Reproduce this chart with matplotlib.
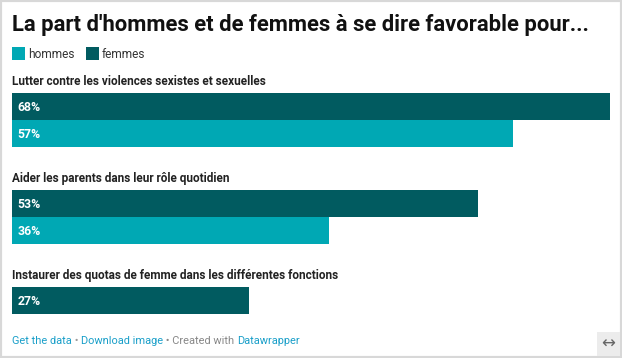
import matplotlib.pyplot as plt
from matplotlib.patches import Rectangle

# data
questions = [
    "Lutter contre les violences sexistes et sexuelles",
    "Aider les parents dans leur rôle quotidien",
    "Instaurer des quotas de femme dans les différentes fonctions",
]
femmes = [68, 53, 27]
hommes = [57, 36, None]

C_FEMMES = "#015b60"
C_HOMMES = "#00a8b4"
FONTS = ["Roboto", "DejaVu Sans"]

W, H = 622, 358
fig = plt.figure(figsize=(W / 100, H / 100), dpi=100)
fig.patch.set_facecolor("white")

# outer border
fig.add_artist(Rectangle((0, 0), 1, 1, transform=fig.transFigure, fill=False,
                         edgecolor="#d8d8d8", linewidth=3))


def fx(px):
    return px / W


def fy(py):
    return 1 - py / H


fig.text(fx(12), fy(31), "La part d'hommes et de femmes à se dire favorable pour...",
         family=FONTS, weight="bold", fontsize=15.8, color="#111111", va="baseline")

# legend
for x0, lab, col in [(12, "hommes", C_HOMMES), (86, "femmes", C_FEMMES)]:
    fig.add_artist(Rectangle((fx(x0), fy(60)), 13 / W, 13 / H, transform=fig.transFigure,
                             facecolor=col, edgecolor="none"))
    fig.text(fx(x0 + 16), fy(58.5), lab, family=FONTS, fontsize=8.6, color="#333333",
             va="baseline")

# bar axes: x from 12px to 610px, y from 93px to 314px
top, bottom = 93, 314
ax = fig.add_axes([fx(12), fy(bottom), fx(610) - fx(12), (bottom - top) / H])
ax.set_xlim(0, max(femmes))
ax.set_ylim(bottom - top, 0)
ax.axis("off")

pitch, bh = 97, 27
for i, q in enumerate(questions):
    y0 = i * pitch
    ax.text(0, y0 - 8, q, family=FONTS, weight="bold", fontsize=8.5, color="#222222",
            va="baseline", clip_on=False)
    ax.barh(y0 + bh / 2, femmes[i], height=bh, color=C_FEMMES, align="center")
    ax.text(0.6, y0 + bh / 2 + 4.5, f"{femmes[i]}%", family=FONTS, weight="bold",
            fontsize=8.8, color="white", va="baseline")
    if hommes[i] is not None:
        ax.barh(y0 + bh * 1.5, hommes[i], height=bh, color=C_HOMMES, align="center")
        ax.text(0.6, y0 + bh * 1.5 + 4.5, f"{hommes[i]}%", family=FONTS, weight="bold",
                fontsize=8.8, color="white", va="baseline")

# footer
parts = [("Get the data", "#1a9fc9"), (" • ", "#999999"), ("Download image", "#1a9fc9"),
         (" • Created with ", "#888888"), ("Datawrapper", "#1a9fc9")]
fig.canvas.draw()
renderer = fig.canvas.get_renderer()
xcur = 12
for txt, col in parts:
    t = fig.text(fx(xcur), fy(344), txt, family=FONTS, fontsize=7.9, color=col, va="baseline")
    bb = t.get_window_extent(renderer=renderer)
    xcur += bb.width

fig.add_artist(Rectangle((fx(597), fy(356)), 23 / W, 24 / H, transform=fig.transFigure,
                         facecolor="#ececec", edgecolor="none"))
fig.text(fx(608.5), fy(344), "↔", family=["DejaVu Sans"], fontsize=12, color="#666666",
         ha="center", va="center")

fig.savefig("out.png", dpi=100)
